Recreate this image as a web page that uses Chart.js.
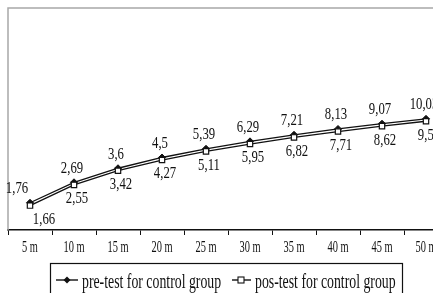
<!DOCTYPE html>
<html>
<head>
<meta charset="utf-8">
<script src="https://cdn.jsdelivr.net/npm/chart.js@4.4.0/dist/chart.umd.min.js"></script>
<style>
  html, body { margin: 0; padding: 0; background: #fff; overflow: hidden; }
  #wrap { width: 460px; height: 293px; }
</style>
</head>
<body>
<div id="wrap"><canvas id="myChart" width="460" height="293"></canvas></div>
<script>
const categories = ['5 m', '10 m', '15 m', '20 m', '25 m', '30 m', '35 m', '40 m', '45 m', '50 m'];
const preTest = [1.76, 2.69, 3.6, 4.5, 5.39, 6.29, 7.21, 8.13, 9.07, 10.03];
const posTest = [1.66, 2.55, 3.42, 4.27, 5.11, 5.95, 6.82, 7.71, 8.62, 9.54];
const seriesNames = ['pre-test for control group', 'pos-test for control group'];

const serif = '"Liberation Serif", "Times New Roman", serif';

// draws squeezed text, the reference uses a narrow times face
function narrowText(ctx, text, x, y, size, sx, align) {
  ctx.save();
  ctx.font = size + 'px ' + serif;
  ctx.translate(x, y);
  ctx.scale(sx, 1);
  ctx.textAlign = align || 'center';
  ctx.fillText(text, 0, 0);
  ctx.restore();
}

const framePlugin = {
  id: 'frame',
  beforeDatasetsDraw(chart) {
    const { ctx, chartArea: a } = chart;
    ctx.save();
    ctx.strokeStyle = '#a8a8a8';
    ctx.lineWidth = 1.5;
    ctx.beginPath();
    ctx.moveTo(a.left, a.bottom);
    ctx.lineTo(a.left, a.top);
    ctx.lineTo(a.right, a.top);
    ctx.lineTo(a.right, a.bottom);
    ctx.stroke();
    ctx.restore();
  }
};

const labelPlugin = {
  id: 'valueLabels',
  afterDatasetsDraw(chart) {
    const ctx = chart.ctx;
    ctx.save();
    ctx.fillStyle = '#111';
    ctx.textBaseline = 'middle';
    chart.data.datasets.forEach((ds, di) => {
      const meta = chart.getDatasetMeta(di);
      meta.data.forEach((pt, i) => {
        const txt = String(ds.data[i]).replace('.', ',');
        let dx = di === 0 ? -2 : 3;
        let dy = di === 0 ? -14 : 14;
        if (i === 0) dx = di === 0 ? -13 : 14;
        narrowText(ctx, txt, pt.x + dx, pt.y + dy, 17, 0.75);
      });
    });
    // x tick labels
    const xs = chart.scales.x;
    ctx.textBaseline = 'alphabetic';
    categories.forEach((c, i) => {
      narrowText(ctx, c, xs.getPixelForValue(i), 251.5, 16.5, 0.63);
    });
    ctx.restore();
  }
};

const legendPlugin = {
  id: 'boxLegend',
  afterDraw(chart) {
    const ctx = chart.ctx;
    ctx.save();
    ctx.strokeStyle = '#111';
    ctx.lineWidth = 1.2;
    ctx.strokeRect(50.5, 263.5, 352, 40);
    ctx.lineWidth = 1.4;
    // pre-test item
    ctx.beginPath(); ctx.moveTo(56, 280); ctx.lineTo(78, 280); ctx.stroke();
    ctx.fillStyle = '#111';
    ctx.beginPath();
    ctx.moveTo(67, 276.5); ctx.lineTo(70.5, 280); ctx.lineTo(67, 283.5); ctx.lineTo(63.5, 280);
    ctx.closePath(); ctx.fill();
    // pos-test item
    ctx.beginPath(); ctx.moveTo(232, 280); ctx.lineTo(251, 280); ctx.stroke();
    ctx.fillStyle = '#fff';
    ctx.fillRect(238, 277, 6, 6);
    ctx.lineWidth = 1.1;
    ctx.strokeRect(238, 277, 6, 6);
    ctx.fillStyle = '#111';
    ctx.textBaseline = 'alphabetic';
    narrowText(ctx, seriesNames[0], 82, 288, 20, 0.69, 'left');
    narrowText(ctx, seriesNames[1], 255, 288, 20, 0.69, 'left');
    ctx.restore();
  }
};

const ctx = document.getElementById('myChart').getContext('2d');
const myChart = new Chart(ctx, {
  type: 'line',
  data: {
    labels: categories,
    datasets: [
      {
        label: seriesNames[0],
        data: preTest,
        borderColor: '#111',
        backgroundColor: '#111',
        borderWidth: 1.3,
        pointStyle: 'rectRot',
        pointRadius: 3.5,
        pointBorderWidth: 1,
        order: 1,
      },
      {
        label: seriesNames[1],
        data: posTest,
        borderColor: '#111',
        backgroundColor: '#fff',
        borderWidth: 1.3,
        pointStyle: 'rect',
        pointRadius: 3.8,
        pointBorderWidth: 1.2,
        order: 0,
      },
    ],
  },
  options: {
    responsive: false,
    animation: false,
    layout: { padding: { left: 8, top: 8, right: 12, bottom: 0 } },
    plugins: {
      legend: { display: false },
      tooltip: { enabled: false },
    },
    scales: {
      x: {
        offset: true,
        grid: {
          offset: true,
          drawOnChartArea: false,
          drawTicks: true,
          tickLength: 5,
          color: '#111',
        },
        border: { color: '#111', width: 1.5 },
        ticks: { display: false },
        afterFit(scale) {
          scale.height = 63;
        },
      },
      y: {
        type: 'logarithmic',
        min: 1,
        max: 100,
        display: false,
      },
    },
  },
  plugins: [framePlugin, labelPlugin, legendPlugin],
});
</script>
</body>
</html>
